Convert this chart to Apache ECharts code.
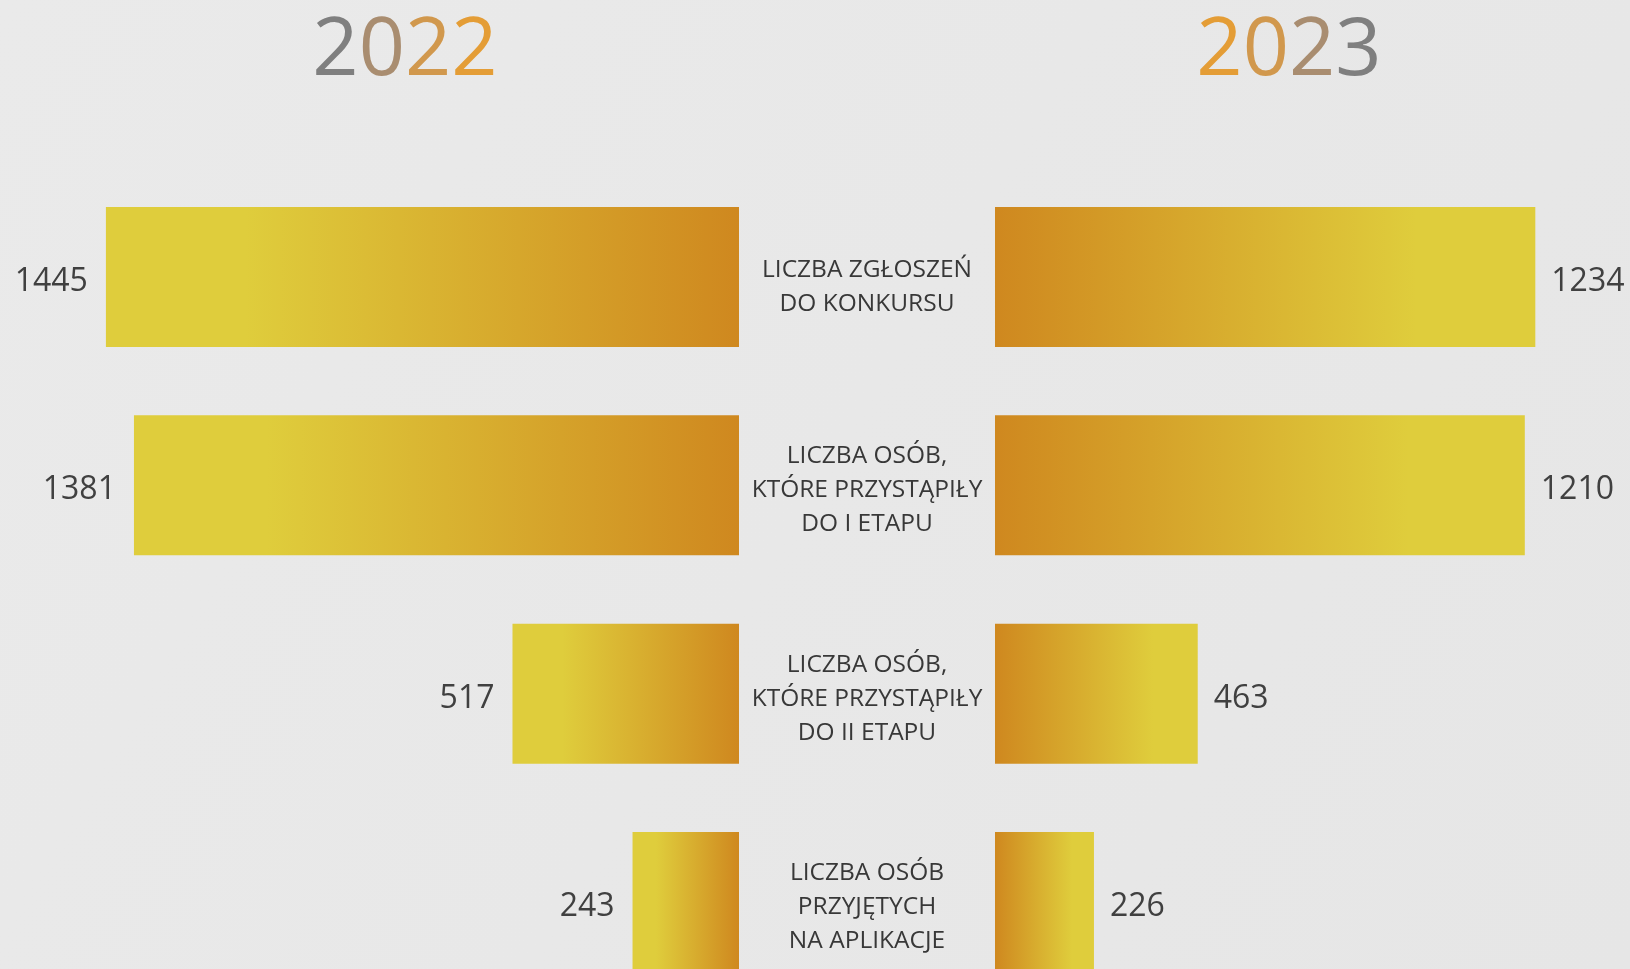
<!DOCTYPE html>
<html>
<head>
<meta charset="utf-8">
<script src="https://cdn.jsdelivr.net/npm/echarts@6/dist/echarts.min.js"></script>
<style>
  html, body { margin: 0; padding: 0; background: #e9e9e9; }
  #chart { width: 1630px; height: 969px; }
</style>
</head>
<body>
<div id="chart"></div>
<script>
var categories = [
    'LICZBA ZGŁOSZEŃ\nDO KONKURSU',
    'LICZBA OSÓB,\nKTÓRE PRZYSTĄPIŁY\nDO I ETAPU',
    'LICZBA OSÓB,\nKTÓRE PRZYSTĄPIŁY\nDO II ETAPU',
    'LICZBA OSÓB\nPRZYJĘTYCH\nNA APLIKACJE'
];
var values2022 = [1445, 1381, 517, 243];
var values2023 = [1234, 1210, 463, 226];
var years = ['2022', '2023'];

var chart = echarts.init(document.getElementById('chart'));

var yellow = '#dfcd3c', orange = '#cf881f';
// the year digits fade from grey to gold (2022) and back (2023)
var digitShades = ['#7f7f7f', '#a98d70', '#d1984d', '#e49d36'];

function barFill(innerRight) {
    // the inner edge (next to the centre labels) is orange, the outer one yellow
    var stops = innerRight
        ? [{ offset: 0, color: yellow }, { offset: 0.22, color: yellow }, { offset: 1, color: orange }]
        : [{ offset: 0, color: orange }, { offset: 0.78, color: yellow }, { offset: 1, color: yellow }];
    return new echarts.graphic.LinearGradient(0, 0, 1, 0, stops);
}

function yearText(year, x, shades) {
    var rich = {}, text = '';
    for (var i = 0; i < year.length; i++) {
        rich['d' + i] = { fill: shades[i], font: '81px "Open Sans"' };
        text += '{d' + i + '|' + year.charAt(i) + '}';
    }
    return {
        type: 'text', x: x, y: 52,
        style: { text: text, rich: rich, font: '81px "Open Sans"', align: 'center', verticalAlign: 'middle' }
    };
}

// centre labels sit a little under the bar middle (the two-line one a bit more):
// a thin spacer line on top pushes them down
function centreLabel(value) {
    var lines = value.split('\n');
    var spacer = lines.length === 2 ? '{s2| }' : '{s3| }';
    return spacer + '\n' + lines.map(function (l) { return '{t|' + l + '}'; }).join('\n');
}

var labelFont = { color: '#404040', fontFamily: 'Open Sans', fontSize: 32, offset: [0, 5] };

var option = {
    backgroundColor: new echarts.graphic.LinearGradient(0, 0, 1, 1, [
        { offset: 0, color: '#eaeaea' },
        { offset: 0.5, color: '#e8e8e8' },
        { offset: 1, color: '#e6e6e6' }
    ]),
    animation: false,
    graphic: [
        yearText(years[0], 405, digitShades),
        yearText(years[1], 1289, digitShades.slice().reverse())
    ],
    grid: [
        { left: 38, width: 701, top: 277, height: 625 },
        { left: 995, width: 613, top: 277, height: 625 }
    ],
    xAxis: [
        { gridIndex: 0, type: 'value', min: 0, max: 1600, inverse: true, show: false },
        { gridIndex: 1, type: 'value', min: 0, max: 1400, show: false }
    ],
    yAxis: [
        {
            gridIndex: 0, type: 'category', data: categories, inverse: true, boundaryGap: false,
            axisLine: { show: false }, axisTick: { show: false }, axisLabel: { show: false }
        },
        {
            gridIndex: 1, type: 'category', data: categories, inverse: true, boundaryGap: false,
            position: 'left',
            axisLine: { show: false }, axisTick: { show: false },
            axisLabel: {
                align: 'center', margin: 128, formatter: centreLabel,
                rich: {
                    s2: { fontSize: 1, lineHeight: 21 },
                    s3: { fontSize: 1, lineHeight: 10 },
                    t: { color: '#383838', fontFamily: 'Open Sans', fontSize: 24.5, lineHeight: 34 }
                }
            }
        }
    ],
    series: [
        {
            name: years[0], type: 'bar', xAxisIndex: 0, yAxisIndex: 0,
            data: values2022, barWidth: 140,
            itemStyle: { color: barFill(true) },
            label: Object.assign({ show: true, position: 'left', distance: 18 }, labelFont)
        },
        {
            name: years[1], type: 'bar', xAxisIndex: 1, yAxisIndex: 1,
            data: values2023, barWidth: 140,
            itemStyle: { color: barFill(false) },
            label: Object.assign({ show: true, position: 'right', distance: 16 }, labelFont)
        }
    ]
};

chart.setOption(option);
</script>
</body>
</html>
